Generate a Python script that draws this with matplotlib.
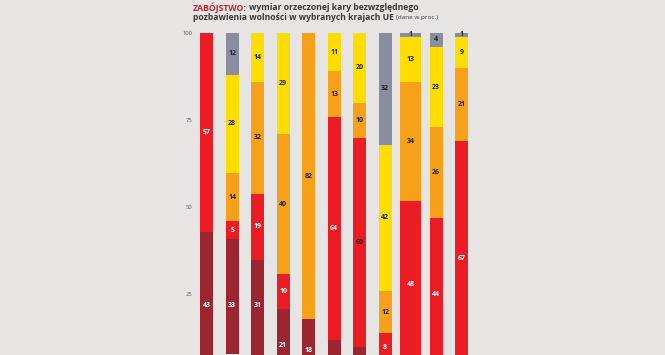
import matplotlib
matplotlib.use("Agg")
import matplotlib.pyplot as plt

# ---- data (values in %, stacked from the top of each bar downward) ----
bars = list(range(11))
seg_gray   = [0, 12, 0, 0, 0, 0, 0, 32, 1, 4, 1]
seg_yellow = [0, 28, 14, 29, 0, 11, 20, 42, 13, 23, 9]
seg_orange = [0, 14, 32, 40, 82, 13, 10, 12, 34, 26, 21]
seg_red    = [57, 5, 19, 10, 0, 64, 60, 8, 48, 44, 67]
seg_dark   = [43, 33, 31, 21, 18, 12, 10, 6, 4, 3, 2]
y_ticks = [25, 50, 75, 100]

BG = "#E6E5E3"
colors = {"gray": "#8A8CA0", "yellow": "#FFDD00", "orange": "#F7A11B",
          "red": "#EC1C24", "dark": "#9C2630"}
text_col = {"gray": "#222222", "yellow": "#222222", "orange": "#222222",
            "red": "white", "dark": "white"}

fig = plt.figure(figsize=(6.65, 3.55), dpi=100, facecolor=BG)
ax = fig.add_axes([0, 0, 1, 1])
ax.set_facecolor(BG)
ax.set_xlim(-8.106, 17.97)
ax.set_ylim(7.74, 109.46)
ax.axis("off")

series = [("gray", seg_gray), ("yellow", seg_yellow), ("orange", seg_orange),
          ("red", seg_red), ("dark", seg_dark)]
widths = [0.52] * 11
widths[8] = 0.82

top = [100.0] * 11
for name, vals in series:
    for i in bars:
        v = vals[i]
        if v <= 0:
            continue
        bottom = top[i] - v
        ax.bar(i, v, bottom=bottom, width=widths[i], color=colors[name],
               edgecolor="none", zorder=2)
        mid = bottom + v / 2
        if name == "dark" and v > 25:
            mid = 21.8
        if mid > 8.5:
            col = text_col[name]
            if name == "red" and i == 6:
                col = "#3a1010"
            ax.text(i, mid, str(v), ha="center", va="center", fontsize=5,
                    fontweight="bold", color=col, family="Open Sans", zorder=3)
        top[i] = bottom

for t in y_ticks:
    ax.text(-0.57, t, str(t), ha="right", va="center", fontsize=4.2,
            color="#555555", family="Open Sans")

FS = 6.2
X0 = 193 / 665
Y1 = 1 - 7.5 / 355
Y2 = 1 - 18 / 355
lab = fig.text(X0, Y1, "ZABÓJSTWO:", ha="left", va="center",
               fontsize=FS, fontweight="bold", color="#C8202F", family="Open Sans")
fig.canvas.draw()
bb = lab.get_window_extent()
fig.text((bb.x1 + 2.5) / 665, Y1, "wymiar orzeczonej kary bezwzględnego",
         ha="left", va="center", fontsize=FS, fontweight="bold",
         color="#3a3a3a", family="Open Sans")
l2 = fig.text(X0, Y2, "pozbawienia wolności w wybranych krajach UE",
              ha="left", va="center", fontsize=FS, fontweight="bold",
              color="#3a3a3a", family="Open Sans")
fig.canvas.draw()
bb2 = l2.get_window_extent()
fig.text((bb2.x1 + 2.5) / 665, Y2, "(dane w proc.)", ha="left",
         va="center", fontsize=4.6, color="#3a3a3a", family="Open Sans")

fig.savefig("out.png", dpi=100, facecolor=BG)
